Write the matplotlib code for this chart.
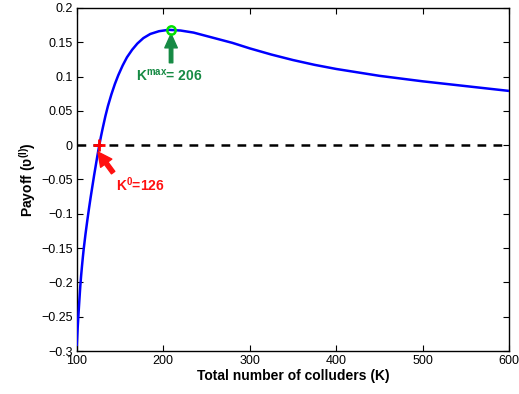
import matplotlib
matplotlib.use("Agg")
import matplotlib.pyplot as plt
from matplotlib.ticker import FuncFormatter

plt.rcParams['font.family'] = ['Liberation Sans', 'DejaVu Sans']
plt.rcParams['mathtext.fontset'] = 'custom'
plt.rcParams['mathtext.rm'] = 'Liberation Sans:bold'
plt.rcParams['mathtext.bf'] = 'Liberation Sans:bold'
plt.rcParams['mathtext.it'] = 'Liberation Sans:bold'

# values
colluders = [100, 101, 102, 103, 104, 105, 106, 107, 108, 110, 112, 114, 116, 118, 120,
             122, 124, 126, 128, 130, 133, 136, 140, 144, 148, 153, 158, 164, 170,
             177, 185, 195, 206, 220, 235, 250, 265, 280, 300, 325, 350,
             375, 400, 450, 500, 550, 600]
payoff = [-0.291, -0.266, -0.245, -0.225, -0.206, -0.190, -0.176, -0.163, -0.151, -0.130,
          -0.111, -0.093, -0.076, -0.060, -0.044, -0.029, -0.014, 0.0, 0.013, 0.025, 0.042,
          0.057, 0.074, 0.089, 0.102, 0.116, 0.128, 0.139, 0.148, 0.156, 0.162, 0.166, 0.168,
          0.167, 0.164, 0.159, 0.154, 0.149, 0.141, 0.132, 0.124, 0.117, 0.111, 0.101, 0.093,
          0.086, 0.079]

k_zero, k_max, payoff_max = 126, 206, 0.168

fig = plt.figure(figsize=(5.19, 3.94), dpi=100)
ax = fig.add_axes([0.148, 0.109, 0.833, 0.871])

ax.plot(colluders, payoff, color='blue', linewidth=1.8, zorder=3)
ax.axhline(0, color='black', linestyle=(0, (3.5, 2.9)), linewidth=1.8, zorder=2)

ax.plot(k_zero, 0, marker='+', color='red', markersize=8, markeredgewidth=2, zorder=4)
ax.plot(k_max + 3, payoff_max, marker='o', markerfacecolor='none', markeredgecolor='#00e000',
        markersize=6, markeredgewidth=1.8, zorder=4)

red = '#ff1010'
green = '#168a44'
ax.annotate('', xy=(124.5, -0.010), xytext=(142, -0.040),
            arrowprops=dict(facecolor=red, edgecolor=red, width=3,
                            headwidth=10, headlength=10, shrink=0))
ax.text(173, -0.058, 'K$^{0}$=126', color=red, fontsize=10, fontweight='bold',
        ha='center', va='center')
ax.annotate('', xy=(k_max + 3, 0.162), xytext=(k_max + 3, 0.120),
            arrowprops=dict(facecolor=green, edgecolor=green, width=2.5,
                            headwidth=9, headlength=10, shrink=0))
ax.text(207, 0.101, 'K$^{max}$= 206', color=green, fontsize=10, fontweight='bold',
        ha='center', va='center')

ax.set_xlim(100, 600)
ax.set_ylim(-0.3, 0.2)
ax.set_xticks([100, 200, 300, 400, 500, 600])
ax.set_yticks([-0.3, -0.25, -0.2, -0.15, -0.1, -0.05, 0, 0.05, 0.1, 0.15, 0.2])
ax.yaxis.set_major_formatter(FuncFormatter(lambda v, p: ('%g' % v).replace('-', '\u2212')))
ax.tick_params(direction='in', top=True, right=True, length=4, labelsize=9, pad=3)
for s in ax.spines.values():
    s.set_linewidth(1.0)

ax.set_xlabel('Total number of colluders (K)', fontsize=10, fontweight='bold', labelpad=1)
ax.set_ylabel('Payoff (\u028b$^{(l)}$)', fontsize=10, fontweight='bold', labelpad=2)

fig.savefig('out.png', dpi=100)
